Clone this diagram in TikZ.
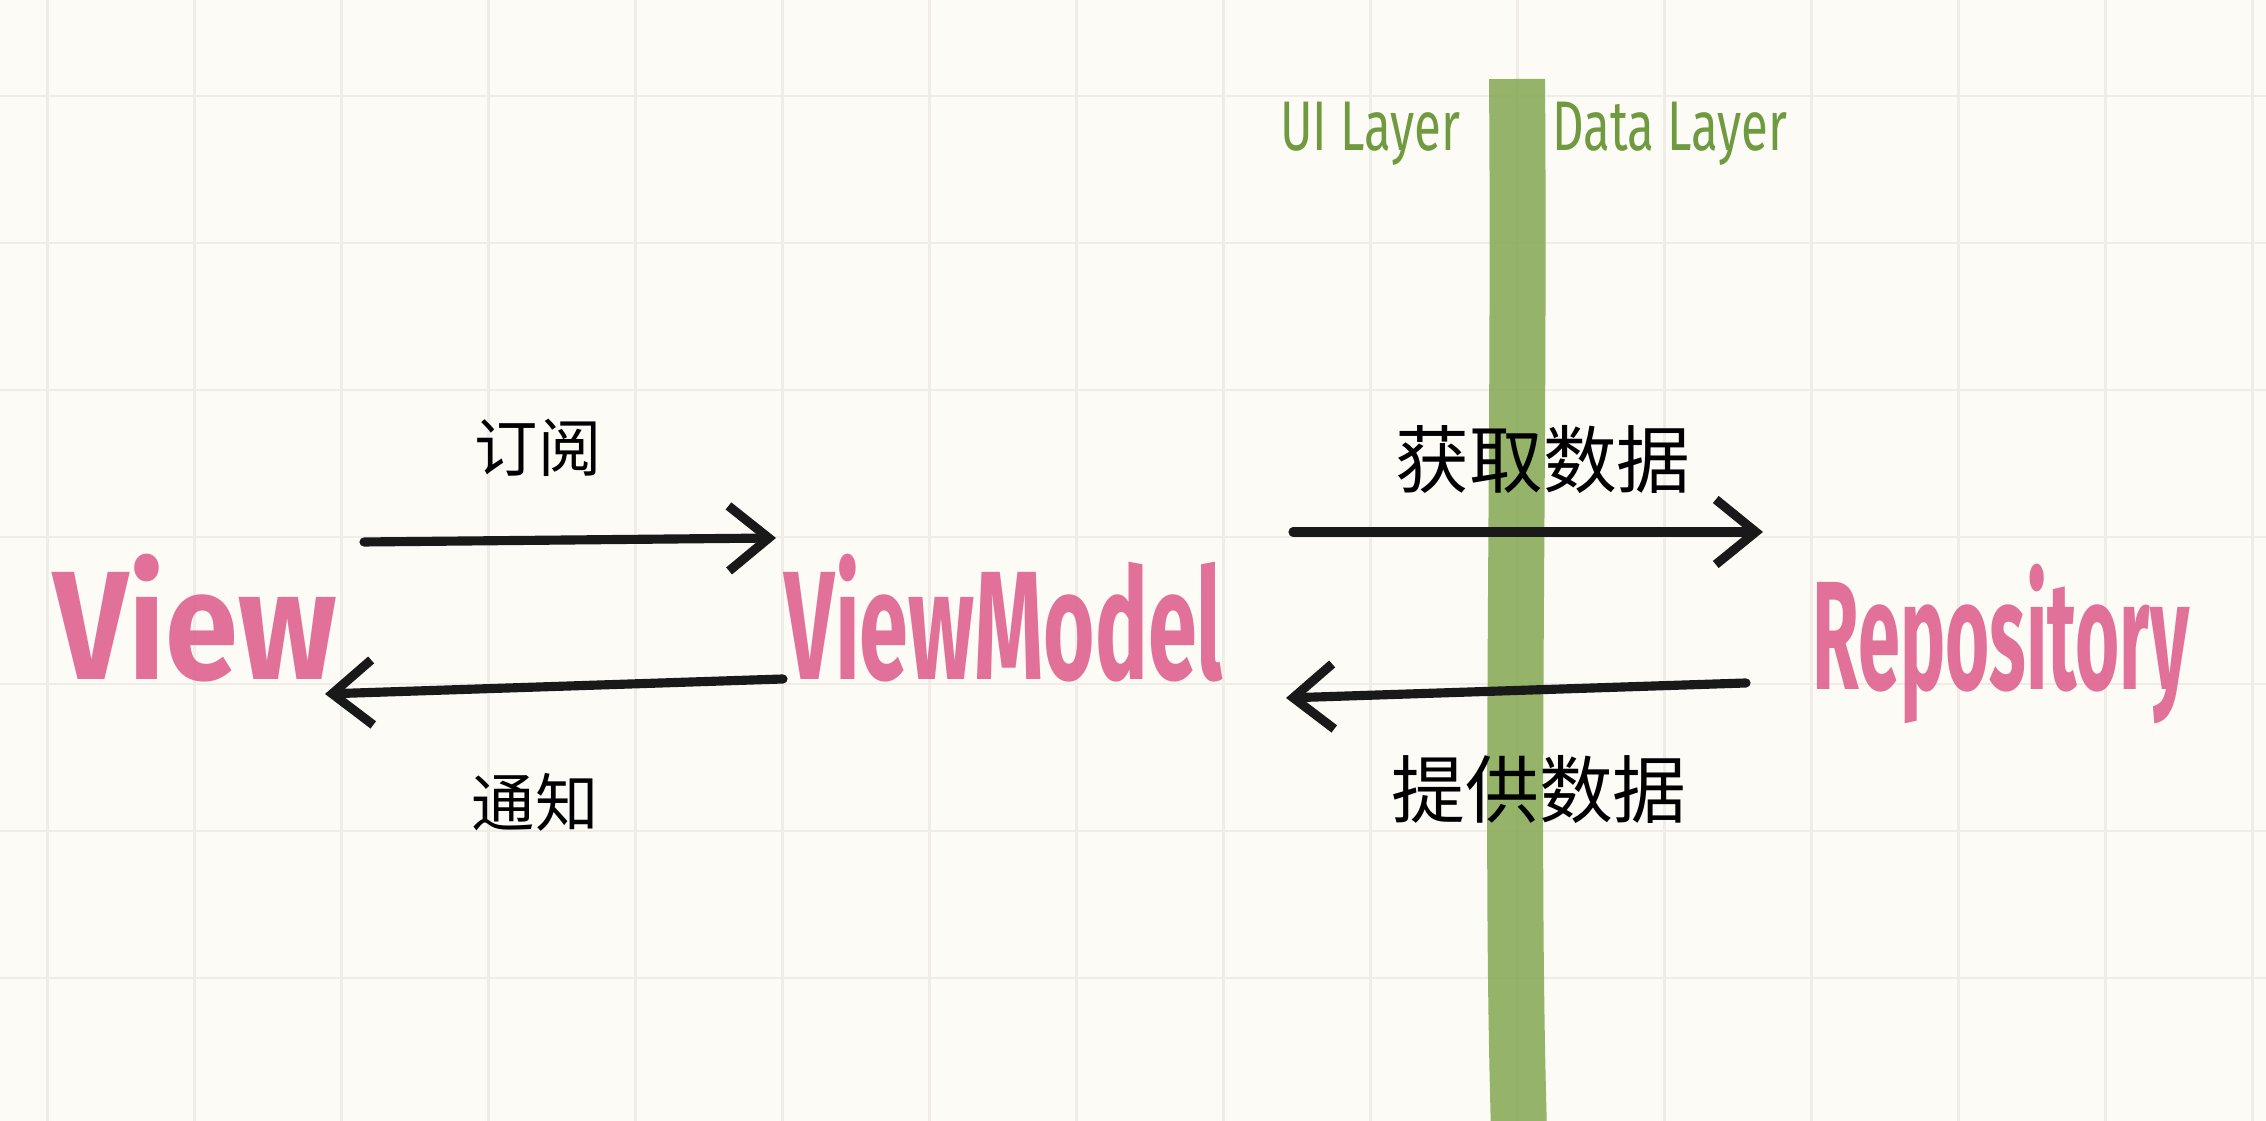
\documentclass[tikz,border=0pt]{standalone}
\usepackage{fontspec}
\setmainfont{Fira Sans}
\newfontfamily\cjk{Noto Sans CJK SC}
\usetikzlibrary{arrows.meta, positioning}
\definecolor{paper}{RGB}{253,251,246}
\definecolor{gridline}{RGB}{240,237,232}
\definecolor{bargreen}{RGB}{138,172,90}
\definecolor{layergreen}{RGB}{112,154,64}
\definecolor{marker}{RGB}{222,98,142}
\tikzset{
    bignode/.style={text=marker, text opacity=0.9, font=\fontsize{44}{48}\selectfont\bfseries, inner sep=0pt, anchor=base},
    layernode/.style={text=layergreen, font=\fontsize{20}{24}\selectfont, inner sep=0pt},
    cnnode/.style={text=black, font=\cjk\fontsize{18}{22}\selectfont, inner sep=0pt},
    pencil/.style={draw=black!90, line width=2.6pt, line cap=round, -{Straight Barb[length=4mm, width=6.5mm, line width=2.6pt]}},
}

\begin{document}
\begin{tikzpicture}
    \fill[paper] (0,0) rectangle (22.66,11.21);
    \useasboundingbox (0,0) rectangle (22.66,11.21);
    \foreach \k in {0,...,15}
        \draw[gridline, line width=0.8pt] (0.475+1.47*\k,0) -- (0.475+1.47*\k,11.21);
    \foreach \k in {0,...,6}
        \draw[gridline, line width=0.8pt] (0,10.25-1.47*\k) -- (22.66,10.25-1.47*\k);
    \draw[bargreen, opacity=0.9, line width=0.56cm, rounded corners=2mm]
        (15.17,10.42) .. controls (15.20,6.5) and (15.10,3.0) .. (15.19,-0.1);

    \node[layernode] (uilayer) at (13.70,9.87) {\scalebox{0.7}[1]{UI Layer}};
    \node[layernode] (datalayer) at (16.70,9.87) {\scalebox{0.7}[1]{Data Layer}};

    \node[bignode] (view) at (1.95,4.41) {\scalebox{0.85}[1]{View}};
    \node[bignode] (vm) at (10.04,4.41) {\scalebox{0.57}[1]{ViewModel}};
    \node[bignode] (repo) at (20.01,4.31) {\scalebox{0.49}[1]{Repository}};

    \node[cnnode] (sub) at (5.38,6.73) {订阅};
    \node[cnnode] (notify) at (5.35,3.19) {通知};
    \node[cnnode, font=\cjk\fontsize{21}{24}\selectfont] (fetch) at (15.43,6.61) {获取数据};
    \node[cnnode, font=\cjk\fontsize{21}{24}\selectfont] (provide) at (15.39,3.31) {提供数据};

    \coordinate (subA) at (3.64,5.79);
    \coordinate (subB) at (7.76,5.83);
    \coordinate (notA) at (7.83,4.42);
    \coordinate (notB) at (3.25,4.27);
    \coordinate (getA) at (12.93,5.89);
    \coordinate (getB) at (17.63,5.89);
    \coordinate (proA) at (17.46,4.38);
    \coordinate (proB) at (12.86,4.23);
    \draw[pencil] (subA) -- (subB);
    \draw[pencil] (notA) -- (notB);
    \draw[pencil] (getA) -- (getB);
    \draw[pencil] (proA) -- (proB);
\end{tikzpicture}
\end{document}
